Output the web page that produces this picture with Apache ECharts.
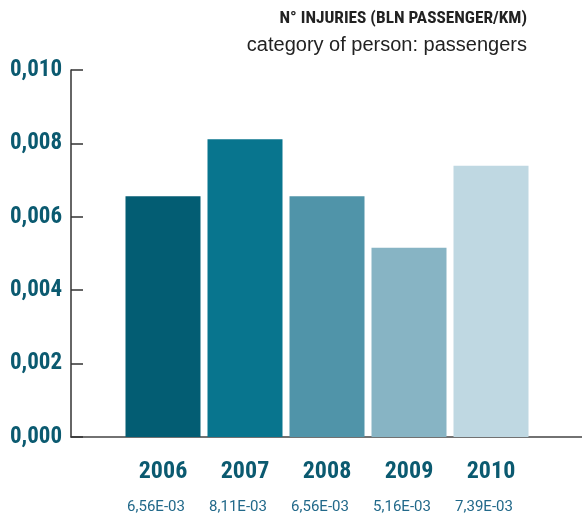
<!DOCTYPE html>
<html>
<head>
<meta charset="utf-8">
<script src="https://cdn.jsdelivr.net/npm/echarts@6/dist/echarts.min.js"></script>
<style>
  html, body { margin: 0; padding: 0; background: #fff; }
  #main { width: 582px; height: 520px; }
</style>
</head>
<body>
<div id="main"></div>
<script>
const years = ['2006', '2007', '2008', '2009', '2010']
const values = [0.00656, 0.00811, 0.00656, 0.00516, 0.00739]
const valueLabels = ['6,56E-03', '8,11E-03', '6,56E-03', '5,16E-03', '7,39E-03']
const barColors = ['#035d73', '#08758e', '#5094a9', '#87b4c4', '#bfd8e2']

const cond = '"Roboto Condensed", sans-serif'
const teal = '#0b5a70'

const chart = echarts.init(document.getElementById('main'))

chart.setOption({
  animation: false,
  title: [
    {
      text: 'N° INJURIES (BLN PASSENGER/KM)',
      right: 55,
      top: 10,
      padding: 0,
      textStyle: { fontFamily: cond, fontWeight: 'bold', fontSize: 17.3, color: '#222' }
    },
    {
      text: 'category of person: passengers',
      right: 55,
      top: 35,
      padding: 0,
      textStyle: { fontFamily: '"Liberation Sans", sans-serif', fontWeight: 'normal', fontSize: 20, color: '#222' }
    }
  ],
  grid: [
    { left: 122, right: 50, top: 70, bottom: 83, outerBoundsMode: 'none' },
    { left: 71, right: 0, top: 70, bottom: 83, outerBoundsMode: 'none' }
  ],
  xAxis: [
    {
      type: 'category',
      gridIndex: 0,
      data: years,
      axisLine: { show: false },
      axisTick: { show: false },
      axisLabel: { interval: 0, margin: 23, fontFamily: cond, fontWeight: 'bold', fontSize: 24, color: teal }
    },
    {
      type: 'category',
      gridIndex: 0,
      position: 'bottom',
      data: valueLabels,
      axisLine: { show: false },
      axisTick: { show: false },
      axisLabel: {
        interval: 0, margin: 63, padding: [0, 14, 0, 0],
        fontFamily: 'Roboto, sans-serif', fontSize: 15, color: '#22698a'
      }
    },
    {
      type: 'value',
      gridIndex: 1,
      min: 0,
      max: 1,
      axisLine: { show: true, lineStyle: { color: '#444', width: 1.5 } },
      axisTick: { show: false },
      axisLabel: { show: false },
      splitLine: { show: false }
    }
  ],
  yAxis: [
    {
      type: 'value',
      gridIndex: 0,
      min: 0,
      max: 0.01,
      interval: 0.002,
      show: false
    },
    {
      type: 'value',
      gridIndex: 1,
      min: 0,
      max: 0.01,
      interval: 0.002,
      axisLine: { show: true, lineStyle: { color: '#333', width: 1.5 } },
      axisTick: { show: true, inside: true, length: 12, lineStyle: { color: '#333', width: 1.5 } },
      splitLine: { show: false },
      axisLabel: {
        margin: 9,
        fontFamily: cond,
        fontWeight: 'bold',
        fontSize: 23,
        color: teal,
        formatter: v => v.toFixed(3).replace('.', ',')
      }
    }
  ],
  series: [
    {
      type: 'bar',
      xAxisIndex: 0,
      yAxisIndex: 0,
      barWidth: 75,
      data: values.map((v, i) => ({ value: v, itemStyle: { color: barColors[i] } }))
    }
  ]
})
</script>
</body>
</html>
